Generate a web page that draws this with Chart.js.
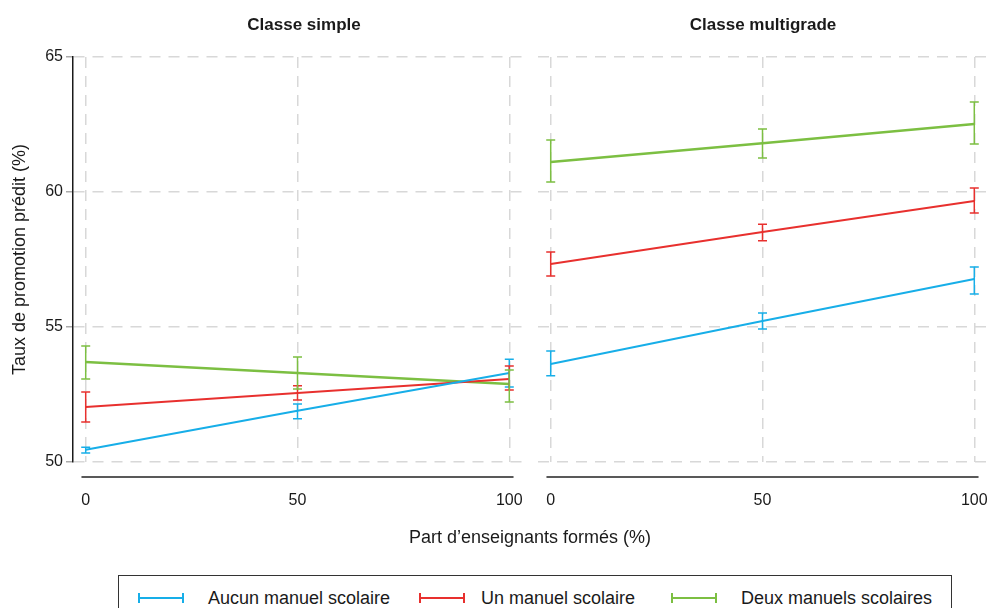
<!DOCTYPE html>
<html><head><meta charset="utf-8">
<script src="https://cdn.jsdelivr.net/npm/chart.js@4.4.0/dist/chart.umd.min.js"></script>
<style>
html,body{margin:0;padding:0;background:#fff;width:987px;height:608px;overflow:hidden;font-family:"Liberation Sans",Arial,sans-serif;color:#1a1a1a;}
#wrapL{position:absolute;left:0;top:0;width:530px;height:530px;}
#wrapR{position:absolute;left:538px;top:0;width:449px;height:530px;overflow:hidden;}
.ptitle{position:absolute;top:15px;font-weight:bold;font-size:17px;transform:translateX(-50%);white-space:nowrap;}
#xtitle{position:absolute;top:527px;left:530px;font-size:18px;transform:translateX(-50%);white-space:nowrap;}
#legend{position:absolute;left:118px;top:575px;width:834px;height:60px;border:1.5px solid #333;box-sizing:border-box;}
.sym{position:absolute;top:17px;width:46px;height:10px;box-sizing:border-box;border-left:2px solid;border-right:2px solid;}
.sym::after{content:"";position:absolute;left:0;right:0;top:4px;height:2px;background:currentColor;}
.ltxt{position:absolute;top:12px;font-size:18px;white-space:nowrap;}
</style></head>
<body>
<div id="wrapL"><canvas id="cL" width="530" height="530"></canvas></div>
<div id="wrapR"><canvas id="cR" width="451" height="530"></canvas></div>
<div class="ptitle" style="left:304px">Classe simple</div>
<div class="ptitle" style="left:763px">Classe multigrade</div>
<div id="xtitle">Part d’enseignants formés (%)</div>
<div id="legend">
  <div class="sym" style="left:19px;color:#17aee8;border-color:#17aee8"></div>
  <div class="ltxt" style="left:89px">Aucun manuel scolaire</div>
  <div class="sym" style="left:300px;color:#e8302e;border-color:#e8302e"></div>
  <div class="ltxt" style="left:362px">Un manuel scolaire</div>
  <div class="sym" style="left:552px;color:#7cbf42;border-color:#7cbf42"></div>
  <div class="ltxt" style="left:622px">Deux manuels scolaires</div>
</div>
<script>
// ---- data ----
const panels = ["Classe simple", "Classe multigrade"];
const seriesNames = ["Aucun manuel scolaire", "Un manuel scolaire", "Deux manuels scolaires"];
const xValues = [0, 50, 100];
const xTicks = [0, 50, 100];
const yTicks = [50, 55, 60, 65];

// Classe simple
const simpleAucun     = [50.45, 51.90, 53.30];
const simpleAucunLow  = [50.33, 51.60, 52.78];
const simpleAucunHigh = [50.55, 52.15, 53.81];
const simpleUn        = [52.04, 52.56, 53.07];
const simpleUnLow     = [51.48, 52.30, 52.67];
const simpleUnHigh    = [52.59, 52.82, 53.56];
const simpleDeux      = [53.70, 53.30, 52.89];
const simpleDeuxLow   = [53.07, 52.70, 52.22];
const simpleDeuxHigh  = [54.30, 53.89, 53.41];

// Classe multigrade
const multiAucun     = [53.63, 55.22, 56.78];
const multiAucunLow  = [53.19, 54.93, 56.22];
const multiAucunHigh = [54.11, 55.52, 57.22];
const multiUn        = [57.33, 58.52, 59.67];
const multiUnLow     = [56.89, 58.19, 59.22];
const multiUnHigh    = [57.78, 58.81, 60.15];
const multiDeux      = [61.11, 61.81, 62.52];
const multiDeuxLow   = [60.37, 61.26, 61.78];
const multiDeuxHigh  = [61.93, 62.33, 63.33];

const colors = ["#17aee8", "#e8302e", "#7cbf42"];
const widths = [2, 2, 2.5];

function makeDatasets(vals, lows, highs) {
  return vals.map((v, k) => ({
    label: seriesNames[k],
    data: xValues.map((x, i) => ({x: x, y: v[i]})),
    low: lows[k], high: highs[k],
    borderColor: colors[k], backgroundColor: colors[k],
    borderWidth: widths[k], pointRadius: 0, tension: 0
  }));
}

const errorBars = {
  id: 'errorBars',
  afterDatasetsDraw(chart) {
    const {ctx, scales: {x, y}} = chart;
    chart.data.datasets.forEach(ds => {
      ctx.save();
      ctx.strokeStyle = ds.borderColor;
      ctx.lineWidth = 1.5;
      ds.data.forEach((p, i) => {
        const px = x.getPixelForValue(p.x);
        const yl = y.getPixelForValue(ds.low[i]);
        const yh = y.getPixelForValue(ds.high[i]);
        ctx.beginPath();
        ctx.moveTo(px, yl); ctx.lineTo(px, yh);
        ctx.moveTo(px - 4.5, yl); ctx.lineTo(px + 4.5, yl);
        ctx.moveTo(px - 4.5, yh); ctx.lineTo(px + 4.5, yh);
        ctx.stroke();
      });
      ctx.restore();
    });
  }
};

const xAxisLine = {
  id: 'xAxisLine',
  afterDraw(chart) {
    const {ctx, chartArea, scales: {x}} = chart;
    ctx.save();
    ctx.strokeStyle = '#222';
    ctx.lineWidth = 1.5;
    ctx.beginPath();
    ctx.moveTo(x.getPixelForValue(-1), chartArea.bottom + 15);
    ctx.lineTo(x.getPixelForValue(101), chartArea.bottom + 15);
    ctx.stroke();
    ctx.restore();
  }
};

function makeChart(id, datasets, showY) {
  return new Chart(document.getElementById(id), {
    type: 'line',
    data: {datasets},
    plugins: [errorBars, xAxisLine],
    options: {
      responsive: false, animation: false,
      layout: {padding: {top: 57, bottom: 0, left: 0, right: showY ? 8 : 2}},
      plugins: {legend: {display: false}, tooltip: {enabled: false}, title: {display: false}},
      scales: {
        x: {
          type: 'linear', min: -3, max: 103,
          afterBuildTicks: ax => { ax.ticks = xTicks.map(v => ({value: v})); },
          afterFit: s => { s.height = 68; },
          grid: {color: '#d8d8d8', lineWidth: 1.5, drawTicks: true, tickLength: 29, tickColor: 'rgba(0,0,0,0)'},
          border: {display: false, dash: [11, 8]},
          ticks: {padding: 0, color: '#1a1a1a', font: {family: 'Liberation Sans', size: 16}, maxRotation: 0}
        },
        y: {
          type: 'linear', min: 50, max: 65,
          afterBuildTicks: ax => { ax.ticks = yTicks.map(v => ({value: v})); },
          afterFit: s => { s.width = showY ? 73 : 0; },
          grid: {color: '#d8d8d8', lineWidth: 1.5, drawTicks: showY, tickLength: 7, tickColor: '#aaa', tickBorderDash: []},
          border: {display: showY, color: '#1a1a1a', width: 1.5, dash: [11, 8]},
          ticks: {display: showY, padding: 3, color: '#1a1a1a', font: {family: 'Liberation Sans', size: 16}},
          title: {display: showY, text: 'Taux de promotion prédit (%)', color: '#1a1a1a',
                  font: {family: 'Liberation Sans', size: 18}, padding: {top: 9, bottom: 2}}
        }
      }
    }
  });
}

makeChart('cL', makeDatasets([simpleAucun, simpleUn, simpleDeux],
  [simpleAucunLow, simpleUnLow, simpleDeuxLow], [simpleAucunHigh, simpleUnHigh, simpleDeuxHigh]), true);
makeChart('cR', makeDatasets([multiAucun, multiUn, multiDeux],
  [multiAucunLow, multiUnLow, multiDeuxLow], [multiAucunHigh, multiUnHigh, multiDeuxHigh]), false);
</script>
</body></html>
